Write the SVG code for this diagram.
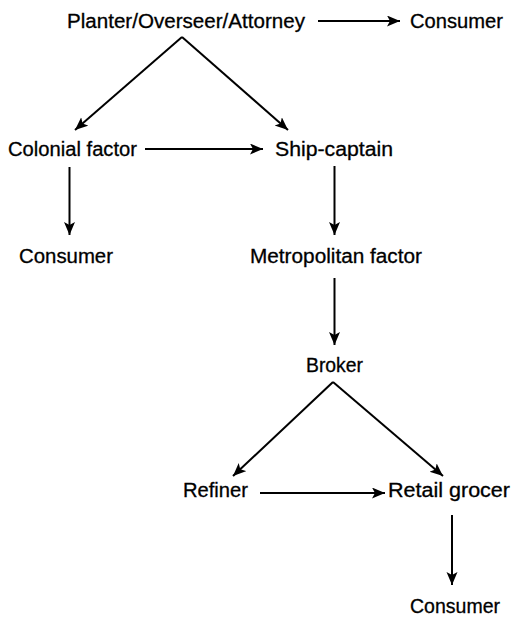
<svg xmlns="http://www.w3.org/2000/svg" width="511" height="621" viewBox="0 0 511 621">
<style>
text{font-family:"Liberation Sans",Arial,Helvetica,sans-serif;font-size:20px;fill:#000;stroke:#000;stroke-width:0.3}
.c{stroke:#000;stroke-width:2;fill:none;marker-end:url(#ah)}
</style>
<defs>
<marker id="ah" markerUnits="userSpaceOnUse" markerWidth="15" markerHeight="12" refX="13" refY="5.5" orient="auto">
<path d="M0,0 L13,5.5 L0,11 L3,5.5 z" fill="#000"/>
</marker>
</defs>
<rect width="511" height="621" fill="#fff"/>
<g id="connectors">
<line class="c" x1="318" y1="21" x2="400" y2="21"/>
<line class="c" x1="182" y1="37" x2="75" y2="130"/>
<line class="c" x1="182" y1="37" x2="288" y2="130"/>
<line class="c" x1="145" y1="149" x2="263" y2="149"/>
<line class="c" x1="69.5" y1="167" x2="69.5" y2="235"/>
<line class="c" x1="334.5" y1="166" x2="334.5" y2="235"/>
<line class="c" x1="334.5" y1="278" x2="334.5" y2="345"/>
<line class="c" x1="333" y1="382" x2="233" y2="476"/>
<line class="c" x1="333" y1="382" x2="443" y2="476"/>
<line class="c" x1="260" y1="493" x2="385" y2="493"/>
<line class="c" x1="452" y1="515" x2="452" y2="585"/>
</g>
<g id="planter"><text x="67" y="28" textLength="238" lengthAdjust="spacingAndGlyphs">Planter/Overseer/Attorney</text></g>
<g id="consumer-top"><text x="410" y="28" textLength="93" lengthAdjust="spacingAndGlyphs">Consumer</text></g>
<g id="colonial-factor"><text x="8" y="156" textLength="129" lengthAdjust="spacingAndGlyphs">Colonial factor</text></g>
<g id="ship-captain"><text x="275" y="156" textLength="118" lengthAdjust="spacingAndGlyphs">Ship-captain</text></g>
<g id="consumer-left"><text x="19" y="263" textLength="94" lengthAdjust="spacingAndGlyphs">Consumer</text></g>
<g id="metropolitan-factor"><text x="250" y="263" textLength="172" lengthAdjust="spacingAndGlyphs">Metropolitan factor</text></g>
<g id="broker"><text x="306" y="372" textLength="57" lengthAdjust="spacingAndGlyphs">Broker</text></g>
<g id="refiner"><text x="183" y="497" textLength="65" lengthAdjust="spacingAndGlyphs">Refiner</text></g>
<g id="retail-grocer"><text x="388" y="497" textLength="122" lengthAdjust="spacingAndGlyphs">Retail grocer</text></g>
<g id="consumer-bottom"><text x="410" y="613" textLength="90" lengthAdjust="spacingAndGlyphs">Consumer</text></g>
</svg>
